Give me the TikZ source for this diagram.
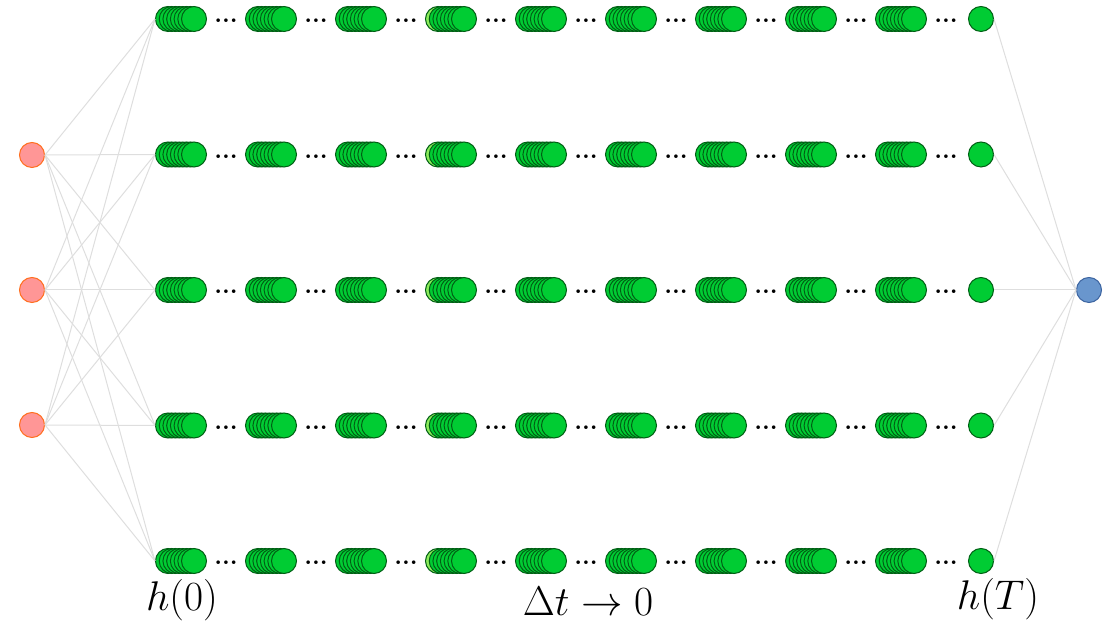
\documentclass[tikz,border=0pt]{standalone}
\usepackage{amsmath}
\usetikzlibrary{positioning}
\definecolor{hidfill}{RGB}{0,204,51}
\definecolor{hiddraw}{RGB}{0,95,20}
\definecolor{hidlite}{RGB}{140,236,90}
\definecolor{infill}{RGB}{255,150,150}
\definecolor{indraw}{RGB}{255,110,30}
\definecolor{outfill}{RGB}{105,150,205}
\definecolor{outdraw}{RGB}{60,100,160}
\tikzset{
  neuron/.style={circle,minimum size=12.5pt,inner sep=0pt,line width=0.5pt},
  hid/.style={neuron,fill=hidfill,draw=hiddraw},
  hidlight/.style={neuron,fill=hidlite,draw=hiddraw},
  inp/.style={neuron,fill=infill,draw=indraw},
  outp/.style={neuron,fill=outfill,draw=outdraw},
  conn/.style={draw=black!13,line width=0.5pt},
  gap/.style={inner sep=0pt,font=\fontsize{12.5}{14}\bfseries},
  lbl/.style={inner sep=0pt,font=\fontsize{22.5}{26}\selectfont}
}
\begin{document}
\begin{tikzpicture}[x=0.5pt,y=-0.5pt]
  \useasboundingbox (0,0) rectangle (1110,624);
  % input layer
  \foreach \i/\y in {1/155,2/290,3/425}
    \node[inp] (in\i) at (32,\y) {};
  % output node
  \node[outp] (out) at (1089,290) {};
  % hidden states, one row per unit
  \foreach \r in {1,...,5}{
    \pgfmathsetmacro{\yr}{19+(\r-1)*135.5}
    \foreach \g in {0,...,8}{
      \foreach \c in {0,...,7}{
        \ifnum\g=3 \ifnum\c=0 \def\hc{hidlight}\else\def\hc{hid}\fi\else\def\hc{hid}\fi
        \node[\hc] (n\r-\g-\c) at ({168+90*\g+\c*26/7},\yr) {};
      }
      \node[gap] (d\r-\g) at ({226+90*\g},{\yr+2}) {...};
    }
    \node[hid] (h\r) at (981,\yr) {};
  }
  % connections
  \foreach \i in {1,2,3}
    \foreach \r in {1,...,5}
      \draw[conn] (in\i.east) -- (n\r-0-0.west);
  \foreach \r in {1,...,5}
    \draw[conn] (h\r.east) -- (out.west);
  % labels
  \node[lbl] (t0) at (182,600) {$h(0)$};
  \node[lbl] (dt) at (588,601) {$\Delta t \to 0$};
  \node[lbl] (tT) at (998,599) {$h(T)$};
\end{tikzpicture}
\end{document}
